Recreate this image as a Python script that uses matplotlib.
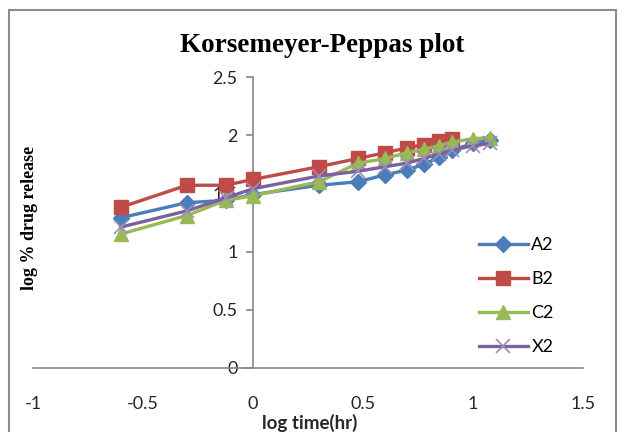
import matplotlib
matplotlib.use("Agg")
import matplotlib.pyplot as plt
from matplotlib.patches import Rectangle

# log time (hr) for 0.25, 0.5, 0.75, 1, 2, 3, 4, 5, 6, 7, 8, 10, 12 h
log_time = [-0.602, -0.301, -0.125, 0.0, 0.301, 0.477, 0.602, 0.699, 0.778, 0.845, 0.903, 1.0, 1.079]

a2 = [1.29, 1.42, 1.44, 1.49, 1.57, 1.60, 1.66, 1.70, 1.75, 1.81, 1.87, 1.93, 1.96]
b2 = [1.38, 1.57, 1.57, 1.62, 1.73, 1.80, 1.85, 1.89, 1.92, 1.95, 1.97]
c2 = [1.15, 1.31, 1.44, 1.48, 1.60, 1.76, 1.80, 1.85, 1.88, 1.91, 1.94, 1.97, 1.98]
x2 = [1.21, 1.35, 1.46, 1.54, 1.65, 1.69, 1.73, 1.76, 1.80, 1.84, 1.87, 1.91, 1.93]

x_ticks = [-1, -0.5, 0, 0.5, 1, 1.5]
x_tick_labels = ["-1", "-0.5", "0", "0.5", "1", "1.5"]
y_ticks = [0, 0.5, 1, 1.5, 2, 2.5]
y_tick_labels = ["0", "0.5", "1", "1.5", "2", "2.5"]

W, H = 624, 432
fig = plt.figure(figsize=(W / 100, H / 100), dpi=100)
fig.patch.set_facecolor("white")

# chart area border (Excel style)
fig.patches.append(Rectangle((9 / W, -0.05), 607 / W, 1 - 10 / H + 0.05,
                             transform=fig.transFigure, fill=False,
                             edgecolor="#8c8c8c", linewidth=1.5))

ax = fig.add_axes([33 / W, (H - 368) / H, 550 / W, 291 / H])
ax.set_xlim(-1, 1.5)
ax.set_ylim(0, 2.5)

axis_grey = "#868686"
tick_font = "Lato"
text_col = "#262626"

ax.plot(log_time, a2, color="#4A7EBB", lw=2.4, marker="D", ms=8, label="A2", zorder=3)
ax.plot(log_time[:len(b2)], b2, color="#BE4B48", lw=2.4, marker="s", ms=10, label="B2", zorder=4)
ax.plot(log_time, c2, color="#98B954", lw=2.4, marker="^", ms=10, label="C2", zorder=5)
ax.plot(log_time, x2, color="#7D60A0", lw=2.4, marker="x", ms=10, mew=1.2,
        mec="#9a8fb8", label="X2", zorder=6)

# axes crossing at zero
for side in ["top", "right"]:
    ax.spines[side].set_visible(False)
ax.spines["left"].set_position(("data", 0))
ax.spines["left"].set_color(axis_grey)
ax.spines["bottom"].set_color(axis_grey)
ax.spines["left"].set_linewidth(1.2)
ax.spines["bottom"].set_linewidth(1.2)

ax.set_xticks(x_ticks)
ax.set_xticklabels(x_tick_labels, fontfamily=tick_font, fontsize=13, color=text_col)
ax.tick_params(axis="x", length=0, pad=20)
ax.set_yticks(y_ticks)
ax.set_yticklabels(y_tick_labels, fontfamily=tick_font, fontsize=13, color=text_col)
ax.tick_params(axis="y", length=5, width=1.2, color=axis_grey, pad=6)

fig.text(322 / W, 1 - 45 / H, "Korsemeyer-Peppas plot", ha="center", va="center",
         fontfamily="Liberation Serif", fontweight="bold", fontsize=19.5)
fig.text(30 / W, 1 - 218 / H, "log % drug release", ha="center", va="center",
         rotation=90, fontfamily="Liberation Serif", fontweight="bold", fontsize=13)
fig.text(310 / W, 1 - 423 / H, "log time(hr)", ha="center", va="center",
         fontfamily=tick_font, fontweight="bold", fontsize=13.5, color=text_col)

ax.legend(loc="upper left", bbox_to_anchor=(470 / W, 1 - 228 / H),
          bbox_transform=fig.transFigure, frameon=False,
          prop={"family": tick_font, "size": 13},
          handlelength=2.7, handletextpad=0.2, labelspacing=1.0, borderpad=0)

fig.savefig("out.png", dpi=100)
